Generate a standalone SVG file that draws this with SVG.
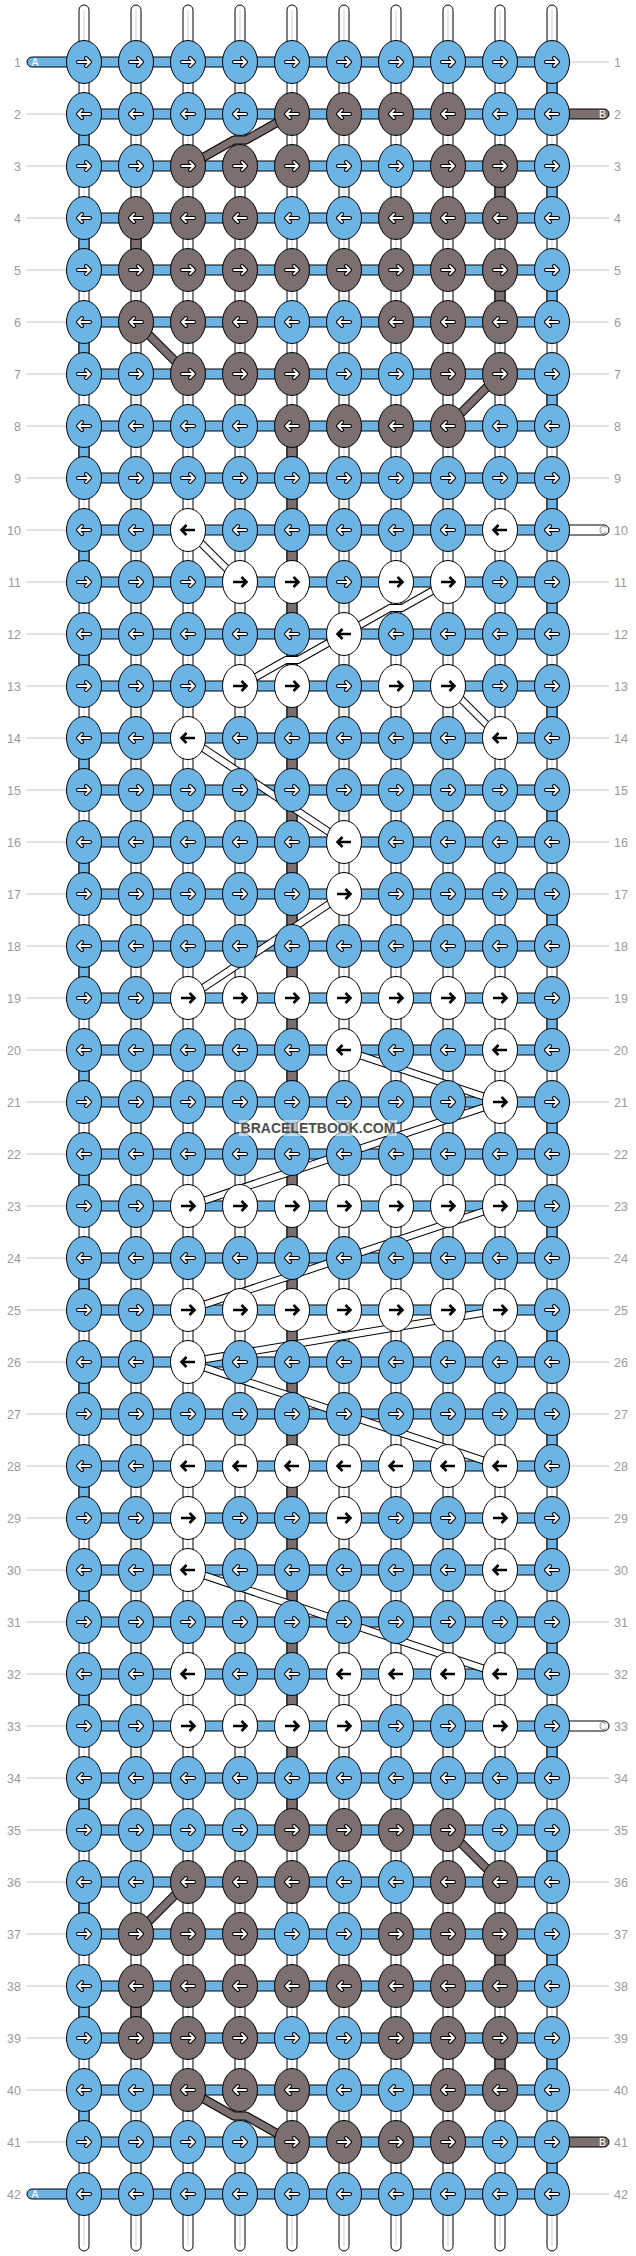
<svg xmlns="http://www.w3.org/2000/svg" xmlns:xlink="http://www.w3.org/1999/xlink" width="636" height="2256" viewBox="0 0 636 2256">
<style>
.s{fill:#fff;stroke:#000;stroke-width:1}
.sg{stroke:#cfcfcf;stroke-width:1}
.h{fill:#6cb4e4;stroke:#000;stroke-width:1}
.vb{fill:#6cb4e4;stroke:#000;stroke-width:1}
.vk{fill:#7b6f6f;stroke:#000;stroke-width:1}
.hk{fill:#7b6f6f;stroke:#000;stroke-width:1}
.hw{fill:#fff;stroke:#000;stroke-width:1}
.ko{fill:none;stroke:#000;stroke-width:9;stroke-linejoin:round}
.ki{fill:none;stroke:#7b6f6f;stroke-width:7;stroke-linejoin:round}
.wo{fill:none;stroke:#000;stroke-width:8;stroke-linejoin:round}
.wi{fill:none;stroke:#fff;stroke-width:6;stroke-linejoin:round}
.eA{fill:#6cb4e4;stroke:#000;stroke-width:1}
.eB{fill:#7b6f6f;stroke:#000;stroke-width:1}
.eC{fill:#fff;stroke:#000;stroke-width:1}
.ao{fill:none;stroke:#000;stroke-width:4;stroke-linecap:round;stroke-linejoin:round}
.ai{fill:none;stroke:#fff;stroke-width:1.8;stroke-linecap:round;stroke-linejoin:round}
.ak{fill:none;stroke:#000;stroke-width:2.6;stroke-linejoin:miter}
.ll{fill:none;stroke:#c4c4c4;stroke-width:1}
.lt{font-family:"Liberation Sans",Arial,sans-serif;font-size:12.5px;fill:#9a9a9a}
.tl{font-family:"Liberation Sans",Arial,sans-serif;font-size:10.5px;fill:#fff}
.wm{font-family:"Liberation Sans",Arial,sans-serif;font-size:14px;font-weight:bold;fill:#4d4d4d}
</style>
<defs>
<g id="AR"><ellipse class="eA" rx="17.5" ry="21.5"/><path class="ao" d="M-6,0H6M2,-4L6,0L2,4"/><path class="ai" d="M-6,0H6M2,-4L6,0L2,4"/></g>
<g id="AL"><ellipse class="eA" rx="17.5" ry="21.5"/><path class="ao" d="M6,0H-6M-2,-4L-6,0L-2,4"/><path class="ai" d="M6,0H-6M-2,-4L-6,0L-2,4"/></g>
<g id="BR"><ellipse class="eB" rx="17.5" ry="21.5"/><path class="ao" d="M-6,0H6M2,-4L6,0L2,4"/><path class="ai" d="M-6,0H6M2,-4L6,0L2,4"/></g>
<g id="BL"><ellipse class="eB" rx="17.5" ry="21.5"/><path class="ao" d="M6,0H-6M-2,-4L-6,0L-2,4"/><path class="ai" d="M6,0H-6M-2,-4L-6,0L-2,4"/></g>
<g id="CR"><ellipse class="eC" rx="17.5" ry="21.5"/><path class="ak" d="M-7,0H6.5M1.5,-5L6.5,0L1.5,5"/></g>
<g id="CL"><ellipse class="eC" rx="17.5" ry="21.5"/><path class="ak" d="M7,0H-6.5M-1.5,-5L-6.5,0L-1.5,5"/></g>
</defs>
<rect width="636" height="2256" fill="#fff"/>
<g id="strands">
<rect class="s" x="79" y="5" width="10" height="2246" rx="5"/>
<rect class="s" x="131" y="5" width="10" height="2246" rx="5"/>
<rect class="s" x="183" y="5" width="10" height="2246" rx="5"/>
<rect class="s" x="235" y="5" width="10" height="2246" rx="5"/>
<rect class="s" x="287" y="5" width="10" height="2246" rx="5"/>
<rect class="s" x="339" y="5" width="10" height="2246" rx="5"/>
<rect class="s" x="391" y="5" width="10" height="2246" rx="5"/>
<rect class="s" x="443" y="5" width="10" height="2246" rx="5"/>
<rect class="s" x="495" y="5" width="10" height="2246" rx="5"/>
<rect class="s" x="547" y="5" width="10" height="2246" rx="5"/>
<path class="sg" d="M84,10V2246M136,10V2246M188,10V2246M240,10V2246M292,10V2246M344,10V2246M396,10V2246M448,10V2246M500,10V2246M552,10V2246"/>
</g>
<g id="labels">
<path class="ll" d="M26,114H66M26,166H66M26,218H66M26,270H66M26,322H66M26,374H66M26,426H66M26,478H66M26,530H66M26,582H66M26,634H66M26,686H66M26,738H66M26,790H66M26,842H66M26,894H66M26,946H66M26,998H66M26,1050H66M26,1102H66M26,1154H66M26,1206H66M26,1258H66M26,1310H66M26,1362H66M26,1414H66M26,1466H66M26,1518H66M26,1570H66M26,1622H66M26,1674H66M26,1726H66M26,1778H66M26,1830H66M26,1882H66M26,1934H66M26,1986H66M26,2038H66M26,2090H66M26,2142H66"/>
<path class="ll" d="M570,62H609M570,166H609M570,218H609M570,270H609M570,322H609M570,374H609M570,426H609M570,478H609M570,582H609M570,634H609M570,686H609M570,738H609M570,790H609M570,842H609M570,894H609M570,946H609M570,998H609M570,1050H609M570,1102H609M570,1154H609M570,1206H609M570,1258H609M570,1310H609M570,1362H609M570,1414H609M570,1466H609M570,1518H609M570,1570H609M570,1622H609M570,1674H609M570,1778H609M570,1830H609M570,1882H609M570,1934H609M570,1986H609M570,2038H609M570,2090H609M570,2194H609"/>
<g class="lt" text-anchor="end">
<text x="21" y="66.5">1</text><text x="21" y="118.5">2</text><text x="21" y="170.5">3</text><text x="21" y="222.5">4</text><text x="21" y="274.5">5</text><text x="21" y="326.5">6</text><text x="21" y="378.5">7</text><text x="21" y="430.5">8</text><text x="21" y="482.5">9</text><text x="21" y="534.5">10</text><text x="21" y="586.5">11</text><text x="21" y="638.5">12</text><text x="21" y="690.5">13</text><text x="21" y="742.5">14</text><text x="21" y="794.5">15</text><text x="21" y="846.5">16</text><text x="21" y="898.5">17</text><text x="21" y="950.5">18</text><text x="21" y="1002.5">19</text><text x="21" y="1054.5">20</text><text x="21" y="1106.5">21</text><text x="21" y="1158.5">22</text><text x="21" y="1210.5">23</text><text x="21" y="1262.5">24</text><text x="21" y="1314.5">25</text><text x="21" y="1366.5">26</text><text x="21" y="1418.5">27</text><text x="21" y="1470.5">28</text><text x="21" y="1522.5">29</text><text x="21" y="1574.5">30</text><text x="21" y="1626.5">31</text><text x="21" y="1678.5">32</text><text x="21" y="1730.5">33</text><text x="21" y="1782.5">34</text><text x="21" y="1834.5">35</text><text x="21" y="1886.5">36</text><text x="21" y="1938.5">37</text><text x="21" y="1990.5">38</text><text x="21" y="2042.5">39</text><text x="21" y="2094.5">40</text><text x="21" y="2146.5">41</text><text x="21" y="2198.5">42</text>
</g>
<g class="lt">
<text x="614" y="66.5">1</text><text x="614" y="118.5">2</text><text x="614" y="170.5">3</text><text x="614" y="222.5">4</text><text x="614" y="274.5">5</text><text x="614" y="326.5">6</text><text x="614" y="378.5">7</text><text x="614" y="430.5">8</text><text x="614" y="482.5">9</text><text x="614" y="534.5">10</text><text x="614" y="586.5">11</text><text x="614" y="638.5">12</text><text x="614" y="690.5">13</text><text x="614" y="742.5">14</text><text x="614" y="794.5">15</text><text x="614" y="846.5">16</text><text x="614" y="898.5">17</text><text x="614" y="950.5">18</text><text x="614" y="1002.5">19</text><text x="614" y="1054.5">20</text><text x="614" y="1106.5">21</text><text x="614" y="1158.5">22</text><text x="614" y="1210.5">23</text><text x="614" y="1262.5">24</text><text x="614" y="1314.5">25</text><text x="614" y="1366.5">26</text><text x="614" y="1418.5">27</text><text x="614" y="1470.5">28</text><text x="614" y="1522.5">29</text><text x="614" y="1574.5">30</text><text x="614" y="1626.5">31</text><text x="614" y="1678.5">32</text><text x="614" y="1730.5">33</text><text x="614" y="1782.5">34</text><text x="614" y="1834.5">35</text><text x="614" y="1886.5">36</text><text x="614" y="1938.5">37</text><text x="614" y="1990.5">38</text><text x="614" y="2042.5">39</text><text x="614" y="2094.5">40</text><text x="614" y="2146.5">41</text><text x="614" y="2198.5">42</text>
</g>
</g>
<g id="rows">
<rect class="h" x="27" y="57" width="530" height="10" rx="5"/>
<rect class="h" x="84" y="109" width="468" height="10"/>
<rect class="h" x="84" y="161" width="468" height="10"/>
<rect class="h" x="84" y="213" width="468" height="10"/>
<rect class="h" x="84" y="265" width="468" height="10"/>
<rect class="h" x="84" y="317" width="468" height="10"/>
<rect class="h" x="84" y="369" width="468" height="10"/>
<rect class="h" x="84" y="421" width="468" height="10"/>
<rect class="h" x="84" y="473" width="468" height="10"/>
<rect class="h" x="84" y="525" width="468" height="10"/>
<rect class="h" x="84" y="577" width="468" height="10"/>
<rect class="h" x="84" y="629" width="468" height="10"/>
<rect class="h" x="84" y="681" width="468" height="10"/>
<rect class="h" x="84" y="733" width="468" height="10"/>
<rect class="h" x="84" y="785" width="468" height="10"/>
<rect class="h" x="84" y="837" width="468" height="10"/>
<rect class="h" x="84" y="889" width="468" height="10"/>
<rect class="h" x="84" y="941" width="468" height="10"/>
<rect class="h" x="84" y="993" width="468" height="10"/>
<rect class="h" x="84" y="1045" width="468" height="10"/>
<rect class="h" x="84" y="1097" width="468" height="10"/>
<rect class="h" x="84" y="1149" width="468" height="10"/>
<rect class="h" x="84" y="1201" width="468" height="10"/>
<rect class="h" x="84" y="1253" width="468" height="10"/>
<rect class="h" x="84" y="1305" width="468" height="10"/>
<rect class="h" x="84" y="1357" width="468" height="10"/>
<rect class="h" x="84" y="1409" width="468" height="10"/>
<rect class="h" x="84" y="1461" width="468" height="10"/>
<rect class="h" x="84" y="1513" width="468" height="10"/>
<rect class="h" x="84" y="1565" width="468" height="10"/>
<rect class="h" x="84" y="1617" width="468" height="10"/>
<rect class="h" x="84" y="1669" width="468" height="10"/>
<rect class="h" x="84" y="1721" width="468" height="10"/>
<rect class="h" x="84" y="1773" width="468" height="10"/>
<rect class="h" x="84" y="1825" width="468" height="10"/>
<rect class="h" x="84" y="1877" width="468" height="10"/>
<rect class="h" x="84" y="1929" width="468" height="10"/>
<rect class="h" x="84" y="1981" width="468" height="10"/>
<rect class="h" x="84" y="2033" width="468" height="10"/>
<rect class="h" x="84" y="2085" width="468" height="10"/>
<rect class="h" x="84" y="2137" width="468" height="10"/>
<rect class="h" x="27" y="2189" width="530" height="10" rx="5"/>
<rect class="hk" x="540" y="109" width="69" height="10" rx="5"/>
<rect class="hk" x="540" y="2137" width="69" height="10" rx="5"/>
<rect class="hw" x="540" y="525" width="69" height="10" rx="5"/>
<rect class="hw" x="540" y="1721" width="69" height="10" rx="5"/>
<text class="tl" x="31.5" y="66">A</text>
<text class="tl" x="31.5" y="2198">A</text>
<text class="tl" x="599" y="118">B</text>
<text class="tl" x="599" y="2146">B</text>
<text class="tl" x="599" y="534" style="fill:#999">C</text>
<text class="tl" x="599" y="1730" style="fill:#999">C</text>
</g>
<g id="verticals">
<rect class="vb" x="547" y="62" width="10" height="52"/><rect class="vb" x="79" y="114" width="10" height="52"/><rect class="vb" x="547" y="166" width="10" height="52"/><rect class="vb" x="79" y="218" width="10" height="52"/><rect class="vb" x="547" y="270" width="10" height="52"/><rect class="vb" x="79" y="322" width="10" height="52"/><rect class="vb" x="547" y="374" width="10" height="52"/><rect class="vb" x="79" y="426" width="10" height="52"/><rect class="vb" x="547" y="478" width="10" height="52"/><rect class="vb" x="79" y="530" width="10" height="52"/><rect class="vb" x="547" y="582" width="10" height="52"/><rect class="vb" x="79" y="634" width="10" height="52"/><rect class="vb" x="547" y="686" width="10" height="52"/><rect class="vb" x="79" y="738" width="10" height="52"/><rect class="vb" x="547" y="790" width="10" height="52"/><rect class="vb" x="79" y="842" width="10" height="52"/><rect class="vb" x="547" y="894" width="10" height="52"/><rect class="vb" x="79" y="946" width="10" height="52"/><rect class="vb" x="547" y="998" width="10" height="52"/><rect class="vb" x="79" y="1050" width="10" height="52"/><rect class="vb" x="547" y="1102" width="10" height="52"/><rect class="vb" x="79" y="1154" width="10" height="52"/><rect class="vb" x="547" y="1206" width="10" height="52"/><rect class="vb" x="79" y="1258" width="10" height="52"/><rect class="vb" x="547" y="1310" width="10" height="52"/><rect class="vb" x="79" y="1362" width="10" height="52"/><rect class="vb" x="547" y="1414" width="10" height="52"/><rect class="vb" x="79" y="1466" width="10" height="52"/><rect class="vb" x="547" y="1518" width="10" height="52"/><rect class="vb" x="79" y="1570" width="10" height="52"/><rect class="vb" x="547" y="1622" width="10" height="52"/><rect class="vb" x="79" y="1674" width="10" height="52"/><rect class="vb" x="547" y="1726" width="10" height="52"/><rect class="vb" x="79" y="1778" width="10" height="52"/><rect class="vb" x="547" y="1830" width="10" height="52"/><rect class="vb" x="79" y="1882" width="10" height="52"/><rect class="vb" x="547" y="1934" width="10" height="52"/><rect class="vb" x="79" y="1986" width="10" height="52"/><rect class="vb" x="547" y="2038" width="10" height="52"/><rect class="vb" x="79" y="2090" width="10" height="52"/><rect class="vb" x="547" y="2142" width="10" height="52"/>
<rect class="vk" x="495" y="166" width="10" height="52"/><rect class="vk" x="131" y="218" width="10" height="52"/><rect class="vk" x="495" y="270" width="10" height="52"/>
<rect class="vk" x="287" y="426" width="10" height="1404"/>
<rect class="vk" x="495" y="1934" width="10" height="52"/><rect class="vk" x="131" y="1986" width="10" height="52"/><rect class="vk" x="495" y="2038" width="10" height="52"/>
</g>
<g id="connectors">
<g class="ko"><path d="M292,114L246,140H234L188,166"/><path d="M136,322L188,374"/><path d="M500,374L448,426"/><path d="M448,1830L500,1882"/><path d="M188,1882L136,1934"/><path d="M188,2090L234,2116H246L292,2142"/></g>
<g class="ki"><path d="M292,114L246,140H234L188,166"/><path d="M136,322L188,374"/><path d="M500,374L448,426"/><path d="M448,1830L500,1882"/><path d="M188,1882L136,1934"/><path d="M188,2090L234,2116H246L292,2142"/></g>
<g class="wo"><path d="M188,530L240,582"/><path d="M448,582L402,608H390L344,634"/><path d="M344,634L298,660H286L240,686"/><path d="M448,686L500,738"/><path d="M188,738L344,842"/><path d="M344,894L188,998"/><path d="M344,1050L500,1102"/><path d="M500,1102L188,1206"/><path d="M500,1206L188,1310"/><path d="M500,1310L188,1362"/><path d="M188,1362L500,1466"/><path d="M188,1570L500,1674"/></g>
<g class="wi"><path d="M188,530L240,582"/><path d="M448,582L402,608H390L344,634"/><path d="M344,634L298,660H286L240,686"/><path d="M448,686L500,738"/><path d="M188,738L344,842"/><path d="M344,894L188,998"/><path d="M344,1050L500,1102"/><path d="M500,1102L188,1206"/><path d="M500,1206L188,1310"/><path d="M500,1310L188,1362"/><path d="M188,1362L500,1466"/><path d="M188,1570L500,1674"/></g>
</g>
<g id="nodes">
<g id="n1-1"><use href="#AR" x="84" y="62"/></g><g id="n1-2"><use href="#AR" x="136" y="62"/></g><g id="n1-3"><use href="#AR" x="188" y="62"/></g><g id="n1-4"><use href="#AR" x="240" y="62"/></g><g id="n1-5"><use href="#AR" x="292" y="62"/></g><g id="n1-6"><use href="#AR" x="344" y="62"/></g><g id="n1-7"><use href="#AR" x="396" y="62"/></g><g id="n1-8"><use href="#AR" x="448" y="62"/></g><g id="n1-9"><use href="#AR" x="500" y="62"/></g><g id="n1-10"><use href="#AR" x="552" y="62"/></g>
<g id="n2-1"><use href="#AL" x="84" y="114"/></g><g id="n2-2"><use href="#AL" x="136" y="114"/></g><g id="n2-3"><use href="#AL" x="188" y="114"/></g><g id="n2-4"><use href="#AL" x="240" y="114"/></g><g id="n2-5"><use href="#BL" x="292" y="114"/></g><g id="n2-6"><use href="#BL" x="344" y="114"/></g><g id="n2-7"><use href="#BL" x="396" y="114"/></g><g id="n2-8"><use href="#BL" x="448" y="114"/></g><g id="n2-9"><use href="#AL" x="500" y="114"/></g><g id="n2-10"><use href="#AL" x="552" y="114"/></g>
<g id="n3-1"><use href="#AR" x="84" y="166"/></g><g id="n3-2"><use href="#AR" x="136" y="166"/></g><g id="n3-3"><use href="#BR" x="188" y="166"/></g><g id="n3-4"><use href="#BR" x="240" y="166"/></g><g id="n3-5"><use href="#BR" x="292" y="166"/></g><g id="n3-6"><use href="#AR" x="344" y="166"/></g><g id="n3-7"><use href="#AR" x="396" y="166"/></g><g id="n3-8"><use href="#BR" x="448" y="166"/></g><g id="n3-9"><use href="#BR" x="500" y="166"/></g><g id="n3-10"><use href="#AR" x="552" y="166"/></g>
<g id="n4-1"><use href="#AL" x="84" y="218"/></g><g id="n4-2"><use href="#BL" x="136" y="218"/></g><g id="n4-3"><use href="#BL" x="188" y="218"/></g><g id="n4-4"><use href="#BL" x="240" y="218"/></g><g id="n4-5"><use href="#AL" x="292" y="218"/></g><g id="n4-6"><use href="#AL" x="344" y="218"/></g><g id="n4-7"><use href="#BL" x="396" y="218"/></g><g id="n4-8"><use href="#BL" x="448" y="218"/></g><g id="n4-9"><use href="#BL" x="500" y="218"/></g><g id="n4-10"><use href="#AL" x="552" y="218"/></g>
<g id="n5-1"><use href="#AR" x="84" y="270"/></g><g id="n5-2"><use href="#BR" x="136" y="270"/></g><g id="n5-3"><use href="#BR" x="188" y="270"/></g><g id="n5-4"><use href="#BR" x="240" y="270"/></g><g id="n5-5"><use href="#BR" x="292" y="270"/></g><g id="n5-6"><use href="#BR" x="344" y="270"/></g><g id="n5-7"><use href="#BR" x="396" y="270"/></g><g id="n5-8"><use href="#BR" x="448" y="270"/></g><g id="n5-9"><use href="#BR" x="500" y="270"/></g><g id="n5-10"><use href="#AR" x="552" y="270"/></g>
<g id="n6-1"><use href="#AL" x="84" y="322"/></g><g id="n6-2"><use href="#BL" x="136" y="322"/></g><g id="n6-3"><use href="#BL" x="188" y="322"/></g><g id="n6-4"><use href="#BL" x="240" y="322"/></g><g id="n6-5"><use href="#AL" x="292" y="322"/></g><g id="n6-6"><use href="#AL" x="344" y="322"/></g><g id="n6-7"><use href="#BL" x="396" y="322"/></g><g id="n6-8"><use href="#BL" x="448" y="322"/></g><g id="n6-9"><use href="#BL" x="500" y="322"/></g><g id="n6-10"><use href="#AL" x="552" y="322"/></g>
<g id="n7-1"><use href="#AR" x="84" y="374"/></g><g id="n7-2"><use href="#AR" x="136" y="374"/></g><g id="n7-3"><use href="#BR" x="188" y="374"/></g><g id="n7-4"><use href="#BR" x="240" y="374"/></g><g id="n7-5"><use href="#BR" x="292" y="374"/></g><g id="n7-6"><use href="#AR" x="344" y="374"/></g><g id="n7-7"><use href="#AR" x="396" y="374"/></g><g id="n7-8"><use href="#BR" x="448" y="374"/></g><g id="n7-9"><use href="#BR" x="500" y="374"/></g><g id="n7-10"><use href="#AR" x="552" y="374"/></g>
<g id="n8-1"><use href="#AL" x="84" y="426"/></g><g id="n8-2"><use href="#AL" x="136" y="426"/></g><g id="n8-3"><use href="#AL" x="188" y="426"/></g><g id="n8-4"><use href="#AL" x="240" y="426"/></g><g id="n8-5"><use href="#BL" x="292" y="426"/></g><g id="n8-6"><use href="#BL" x="344" y="426"/></g><g id="n8-7"><use href="#BL" x="396" y="426"/></g><g id="n8-8"><use href="#BL" x="448" y="426"/></g><g id="n8-9"><use href="#AL" x="500" y="426"/></g><g id="n8-10"><use href="#AL" x="552" y="426"/></g>
<g id="n9-1"><use href="#AR" x="84" y="478"/></g><g id="n9-2"><use href="#AR" x="136" y="478"/></g><g id="n9-3"><use href="#AR" x="188" y="478"/></g><g id="n9-4"><use href="#AR" x="240" y="478"/></g><g id="n9-5"><use href="#AR" x="292" y="478"/></g><g id="n9-6"><use href="#AR" x="344" y="478"/></g><g id="n9-7"><use href="#AR" x="396" y="478"/></g><g id="n9-8"><use href="#AR" x="448" y="478"/></g><g id="n9-9"><use href="#AR" x="500" y="478"/></g><g id="n9-10"><use href="#AR" x="552" y="478"/></g>
<g id="n10-1"><use href="#AL" x="84" y="530"/></g><g id="n10-2"><use href="#AL" x="136" y="530"/></g><g id="n10-3"><use href="#CL" x="188" y="530"/></g><g id="n10-4"><use href="#AL" x="240" y="530"/></g><g id="n10-5"><use href="#AL" x="292" y="530"/></g><g id="n10-6"><use href="#AL" x="344" y="530"/></g><g id="n10-7"><use href="#AL" x="396" y="530"/></g><g id="n10-8"><use href="#AL" x="448" y="530"/></g><g id="n10-9"><use href="#CL" x="500" y="530"/></g><g id="n10-10"><use href="#AL" x="552" y="530"/></g>
<g id="n11-1"><use href="#AR" x="84" y="582"/></g><g id="n11-2"><use href="#AR" x="136" y="582"/></g><g id="n11-3"><use href="#AR" x="188" y="582"/></g><g id="n11-4"><use href="#CR" x="240" y="582"/></g><g id="n11-5"><use href="#CR" x="292" y="582"/></g><g id="n11-6"><use href="#AR" x="344" y="582"/></g><g id="n11-7"><use href="#CR" x="396" y="582"/></g><g id="n11-8"><use href="#CR" x="448" y="582"/></g><g id="n11-9"><use href="#AR" x="500" y="582"/></g><g id="n11-10"><use href="#AR" x="552" y="582"/></g>
<g id="n12-1"><use href="#AL" x="84" y="634"/></g><g id="n12-2"><use href="#AL" x="136" y="634"/></g><g id="n12-3"><use href="#AL" x="188" y="634"/></g><g id="n12-4"><use href="#AL" x="240" y="634"/></g><g id="n12-5"><use href="#AL" x="292" y="634"/></g><g id="n12-6"><use href="#CL" x="344" y="634"/></g><g id="n12-7"><use href="#AL" x="396" y="634"/></g><g id="n12-8"><use href="#AL" x="448" y="634"/></g><g id="n12-9"><use href="#AL" x="500" y="634"/></g><g id="n12-10"><use href="#AL" x="552" y="634"/></g>
<g id="n13-1"><use href="#AR" x="84" y="686"/></g><g id="n13-2"><use href="#AR" x="136" y="686"/></g><g id="n13-3"><use href="#AR" x="188" y="686"/></g><g id="n13-4"><use href="#CR" x="240" y="686"/></g><g id="n13-5"><use href="#CR" x="292" y="686"/></g><g id="n13-6"><use href="#AR" x="344" y="686"/></g><g id="n13-7"><use href="#CR" x="396" y="686"/></g><g id="n13-8"><use href="#CR" x="448" y="686"/></g><g id="n13-9"><use href="#AR" x="500" y="686"/></g><g id="n13-10"><use href="#AR" x="552" y="686"/></g>
<g id="n14-1"><use href="#AL" x="84" y="738"/></g><g id="n14-2"><use href="#AL" x="136" y="738"/></g><g id="n14-3"><use href="#CL" x="188" y="738"/></g><g id="n14-4"><use href="#AL" x="240" y="738"/></g><g id="n14-5"><use href="#AL" x="292" y="738"/></g><g id="n14-6"><use href="#AL" x="344" y="738"/></g><g id="n14-7"><use href="#AL" x="396" y="738"/></g><g id="n14-8"><use href="#AL" x="448" y="738"/></g><g id="n14-9"><use href="#CL" x="500" y="738"/></g><g id="n14-10"><use href="#AL" x="552" y="738"/></g>
<g id="n15-1"><use href="#AR" x="84" y="790"/></g><g id="n15-2"><use href="#AR" x="136" y="790"/></g><g id="n15-3"><use href="#AR" x="188" y="790"/></g><g id="n15-4"><use href="#AR" x="240" y="790"/></g><g id="n15-5"><use href="#AR" x="292" y="790"/></g><g id="n15-6"><use href="#AR" x="344" y="790"/></g><g id="n15-7"><use href="#AR" x="396" y="790"/></g><g id="n15-8"><use href="#AR" x="448" y="790"/></g><g id="n15-9"><use href="#AR" x="500" y="790"/></g><g id="n15-10"><use href="#AR" x="552" y="790"/></g>
<g id="n16-1"><use href="#AL" x="84" y="842"/></g><g id="n16-2"><use href="#AL" x="136" y="842"/></g><g id="n16-3"><use href="#AL" x="188" y="842"/></g><g id="n16-4"><use href="#AL" x="240" y="842"/></g><g id="n16-5"><use href="#AL" x="292" y="842"/></g><g id="n16-6"><use href="#CL" x="344" y="842"/></g><g id="n16-7"><use href="#AL" x="396" y="842"/></g><g id="n16-8"><use href="#AL" x="448" y="842"/></g><g id="n16-9"><use href="#AL" x="500" y="842"/></g><g id="n16-10"><use href="#AL" x="552" y="842"/></g>
<g id="n17-1"><use href="#AR" x="84" y="894"/></g><g id="n17-2"><use href="#AR" x="136" y="894"/></g><g id="n17-3"><use href="#AR" x="188" y="894"/></g><g id="n17-4"><use href="#AR" x="240" y="894"/></g><g id="n17-5"><use href="#AR" x="292" y="894"/></g><g id="n17-6"><use href="#CR" x="344" y="894"/></g><g id="n17-7"><use href="#AR" x="396" y="894"/></g><g id="n17-8"><use href="#AR" x="448" y="894"/></g><g id="n17-9"><use href="#AR" x="500" y="894"/></g><g id="n17-10"><use href="#AR" x="552" y="894"/></g>
<g id="n18-1"><use href="#AL" x="84" y="946"/></g><g id="n18-2"><use href="#AL" x="136" y="946"/></g><g id="n18-3"><use href="#AL" x="188" y="946"/></g><g id="n18-4"><use href="#AL" x="240" y="946"/></g><g id="n18-5"><use href="#AL" x="292" y="946"/></g><g id="n18-6"><use href="#AL" x="344" y="946"/></g><g id="n18-7"><use href="#AL" x="396" y="946"/></g><g id="n18-8"><use href="#AL" x="448" y="946"/></g><g id="n18-9"><use href="#AL" x="500" y="946"/></g><g id="n18-10"><use href="#AL" x="552" y="946"/></g>
<g id="n19-1"><use href="#AR" x="84" y="998"/></g><g id="n19-2"><use href="#AR" x="136" y="998"/></g><g id="n19-3"><use href="#CR" x="188" y="998"/></g><g id="n19-4"><use href="#CR" x="240" y="998"/></g><g id="n19-5"><use href="#CR" x="292" y="998"/></g><g id="n19-6"><use href="#CR" x="344" y="998"/></g><g id="n19-7"><use href="#CR" x="396" y="998"/></g><g id="n19-8"><use href="#CR" x="448" y="998"/></g><g id="n19-9"><use href="#CR" x="500" y="998"/></g><g id="n19-10"><use href="#AR" x="552" y="998"/></g>
<g id="n20-1"><use href="#AL" x="84" y="1050"/></g><g id="n20-2"><use href="#AL" x="136" y="1050"/></g><g id="n20-3"><use href="#AL" x="188" y="1050"/></g><g id="n20-4"><use href="#AL" x="240" y="1050"/></g><g id="n20-5"><use href="#AL" x="292" y="1050"/></g><g id="n20-6"><use href="#CL" x="344" y="1050"/></g><g id="n20-7"><use href="#AL" x="396" y="1050"/></g><g id="n20-8"><use href="#AL" x="448" y="1050"/></g><g id="n20-9"><use href="#CL" x="500" y="1050"/></g><g id="n20-10"><use href="#AL" x="552" y="1050"/></g>
<g id="n21-1"><use href="#AR" x="84" y="1102"/></g><g id="n21-2"><use href="#AR" x="136" y="1102"/></g><g id="n21-3"><use href="#AR" x="188" y="1102"/></g><g id="n21-4"><use href="#AR" x="240" y="1102"/></g><g id="n21-5"><use href="#AR" x="292" y="1102"/></g><g id="n21-6"><use href="#AR" x="344" y="1102"/></g><g id="n21-7"><use href="#AR" x="396" y="1102"/></g><g id="n21-8"><use href="#AR" x="448" y="1102"/></g><g id="n21-9"><use href="#CR" x="500" y="1102"/></g><g id="n21-10"><use href="#AR" x="552" y="1102"/></g>
<g id="n22-1"><use href="#AL" x="84" y="1154"/></g><g id="n22-2"><use href="#AL" x="136" y="1154"/></g><g id="n22-3"><use href="#AL" x="188" y="1154"/></g><g id="n22-4"><use href="#AL" x="240" y="1154"/></g><g id="n22-5"><use href="#AL" x="292" y="1154"/></g><g id="n22-6"><use href="#AL" x="344" y="1154"/></g><g id="n22-7"><use href="#AL" x="396" y="1154"/></g><g id="n22-8"><use href="#AL" x="448" y="1154"/></g><g id="n22-9"><use href="#AL" x="500" y="1154"/></g><g id="n22-10"><use href="#AL" x="552" y="1154"/></g>
<g id="n23-1"><use href="#AR" x="84" y="1206"/></g><g id="n23-2"><use href="#AR" x="136" y="1206"/></g><g id="n23-3"><use href="#CR" x="188" y="1206"/></g><g id="n23-4"><use href="#CR" x="240" y="1206"/></g><g id="n23-5"><use href="#CR" x="292" y="1206"/></g><g id="n23-6"><use href="#CR" x="344" y="1206"/></g><g id="n23-7"><use href="#CR" x="396" y="1206"/></g><g id="n23-8"><use href="#CR" x="448" y="1206"/></g><g id="n23-9"><use href="#CR" x="500" y="1206"/></g><g id="n23-10"><use href="#AR" x="552" y="1206"/></g>
<g id="n24-1"><use href="#AL" x="84" y="1258"/></g><g id="n24-2"><use href="#AL" x="136" y="1258"/></g><g id="n24-3"><use href="#AL" x="188" y="1258"/></g><g id="n24-4"><use href="#AL" x="240" y="1258"/></g><g id="n24-5"><use href="#AL" x="292" y="1258"/></g><g id="n24-6"><use href="#AL" x="344" y="1258"/></g><g id="n24-7"><use href="#AL" x="396" y="1258"/></g><g id="n24-8"><use href="#AL" x="448" y="1258"/></g><g id="n24-9"><use href="#AL" x="500" y="1258"/></g><g id="n24-10"><use href="#AL" x="552" y="1258"/></g>
<g id="n25-1"><use href="#AR" x="84" y="1310"/></g><g id="n25-2"><use href="#AR" x="136" y="1310"/></g><g id="n25-3"><use href="#CR" x="188" y="1310"/></g><g id="n25-4"><use href="#CR" x="240" y="1310"/></g><g id="n25-5"><use href="#CR" x="292" y="1310"/></g><g id="n25-6"><use href="#CR" x="344" y="1310"/></g><g id="n25-7"><use href="#CR" x="396" y="1310"/></g><g id="n25-8"><use href="#CR" x="448" y="1310"/></g><g id="n25-9"><use href="#CR" x="500" y="1310"/></g><g id="n25-10"><use href="#AR" x="552" y="1310"/></g>
<g id="n26-1"><use href="#AL" x="84" y="1362"/></g><g id="n26-2"><use href="#AL" x="136" y="1362"/></g><g id="n26-3"><use href="#CL" x="188" y="1362"/></g><g id="n26-4"><use href="#AL" x="240" y="1362"/></g><g id="n26-5"><use href="#AL" x="292" y="1362"/></g><g id="n26-6"><use href="#AL" x="344" y="1362"/></g><g id="n26-7"><use href="#AL" x="396" y="1362"/></g><g id="n26-8"><use href="#AL" x="448" y="1362"/></g><g id="n26-9"><use href="#AL" x="500" y="1362"/></g><g id="n26-10"><use href="#AL" x="552" y="1362"/></g>
<g id="n27-1"><use href="#AR" x="84" y="1414"/></g><g id="n27-2"><use href="#AR" x="136" y="1414"/></g><g id="n27-3"><use href="#AR" x="188" y="1414"/></g><g id="n27-4"><use href="#AR" x="240" y="1414"/></g><g id="n27-5"><use href="#AR" x="292" y="1414"/></g><g id="n27-6"><use href="#AR" x="344" y="1414"/></g><g id="n27-7"><use href="#AR" x="396" y="1414"/></g><g id="n27-8"><use href="#AR" x="448" y="1414"/></g><g id="n27-9"><use href="#AR" x="500" y="1414"/></g><g id="n27-10"><use href="#AR" x="552" y="1414"/></g>
<g id="n28-1"><use href="#AL" x="84" y="1466"/></g><g id="n28-2"><use href="#AL" x="136" y="1466"/></g><g id="n28-3"><use href="#CL" x="188" y="1466"/></g><g id="n28-4"><use href="#CL" x="240" y="1466"/></g><g id="n28-5"><use href="#CL" x="292" y="1466"/></g><g id="n28-6"><use href="#CL" x="344" y="1466"/></g><g id="n28-7"><use href="#CL" x="396" y="1466"/></g><g id="n28-8"><use href="#CL" x="448" y="1466"/></g><g id="n28-9"><use href="#CL" x="500" y="1466"/></g><g id="n28-10"><use href="#AL" x="552" y="1466"/></g>
<g id="n29-1"><use href="#AR" x="84" y="1518"/></g><g id="n29-2"><use href="#AR" x="136" y="1518"/></g><g id="n29-3"><use href="#CR" x="188" y="1518"/></g><g id="n29-4"><use href="#AR" x="240" y="1518"/></g><g id="n29-5"><use href="#AR" x="292" y="1518"/></g><g id="n29-6"><use href="#CR" x="344" y="1518"/></g><g id="n29-7"><use href="#AR" x="396" y="1518"/></g><g id="n29-8"><use href="#AR" x="448" y="1518"/></g><g id="n29-9"><use href="#CR" x="500" y="1518"/></g><g id="n29-10"><use href="#AR" x="552" y="1518"/></g>
<g id="n30-1"><use href="#AL" x="84" y="1570"/></g><g id="n30-2"><use href="#AL" x="136" y="1570"/></g><g id="n30-3"><use href="#CL" x="188" y="1570"/></g><g id="n30-4"><use href="#AL" x="240" y="1570"/></g><g id="n30-5"><use href="#AL" x="292" y="1570"/></g><g id="n30-6"><use href="#AL" x="344" y="1570"/></g><g id="n30-7"><use href="#AL" x="396" y="1570"/></g><g id="n30-8"><use href="#AL" x="448" y="1570"/></g><g id="n30-9"><use href="#CL" x="500" y="1570"/></g><g id="n30-10"><use href="#AL" x="552" y="1570"/></g>
<g id="n31-1"><use href="#AR" x="84" y="1622"/></g><g id="n31-2"><use href="#AR" x="136" y="1622"/></g><g id="n31-3"><use href="#AR" x="188" y="1622"/></g><g id="n31-4"><use href="#AR" x="240" y="1622"/></g><g id="n31-5"><use href="#AR" x="292" y="1622"/></g><g id="n31-6"><use href="#AR" x="344" y="1622"/></g><g id="n31-7"><use href="#AR" x="396" y="1622"/></g><g id="n31-8"><use href="#AR" x="448" y="1622"/></g><g id="n31-9"><use href="#AR" x="500" y="1622"/></g><g id="n31-10"><use href="#AR" x="552" y="1622"/></g>
<g id="n32-1"><use href="#AL" x="84" y="1674"/></g><g id="n32-2"><use href="#AL" x="136" y="1674"/></g><g id="n32-3"><use href="#CL" x="188" y="1674"/></g><g id="n32-4"><use href="#AL" x="240" y="1674"/></g><g id="n32-5"><use href="#AL" x="292" y="1674"/></g><g id="n32-6"><use href="#CL" x="344" y="1674"/></g><g id="n32-7"><use href="#CL" x="396" y="1674"/></g><g id="n32-8"><use href="#CL" x="448" y="1674"/></g><g id="n32-9"><use href="#CL" x="500" y="1674"/></g><g id="n32-10"><use href="#AL" x="552" y="1674"/></g>
<g id="n33-1"><use href="#AR" x="84" y="1726"/></g><g id="n33-2"><use href="#AR" x="136" y="1726"/></g><g id="n33-3"><use href="#CR" x="188" y="1726"/></g><g id="n33-4"><use href="#CR" x="240" y="1726"/></g><g id="n33-5"><use href="#CR" x="292" y="1726"/></g><g id="n33-6"><use href="#CR" x="344" y="1726"/></g><g id="n33-7"><use href="#AR" x="396" y="1726"/></g><g id="n33-8"><use href="#AR" x="448" y="1726"/></g><g id="n33-9"><use href="#CR" x="500" y="1726"/></g><g id="n33-10"><use href="#AR" x="552" y="1726"/></g>
<g id="n34-1"><use href="#AL" x="84" y="1778"/></g><g id="n34-2"><use href="#AL" x="136" y="1778"/></g><g id="n34-3"><use href="#AL" x="188" y="1778"/></g><g id="n34-4"><use href="#AL" x="240" y="1778"/></g><g id="n34-5"><use href="#AL" x="292" y="1778"/></g><g id="n34-6"><use href="#AL" x="344" y="1778"/></g><g id="n34-7"><use href="#AL" x="396" y="1778"/></g><g id="n34-8"><use href="#AL" x="448" y="1778"/></g><g id="n34-9"><use href="#AL" x="500" y="1778"/></g><g id="n34-10"><use href="#AL" x="552" y="1778"/></g>
<g id="n35-1"><use href="#AR" x="84" y="1830"/></g><g id="n35-2"><use href="#AR" x="136" y="1830"/></g><g id="n35-3"><use href="#AR" x="188" y="1830"/></g><g id="n35-4"><use href="#AR" x="240" y="1830"/></g><g id="n35-5"><use href="#BR" x="292" y="1830"/></g><g id="n35-6"><use href="#BR" x="344" y="1830"/></g><g id="n35-7"><use href="#BR" x="396" y="1830"/></g><g id="n35-8"><use href="#BR" x="448" y="1830"/></g><g id="n35-9"><use href="#AR" x="500" y="1830"/></g><g id="n35-10"><use href="#AR" x="552" y="1830"/></g>
<g id="n36-1"><use href="#AL" x="84" y="1882"/></g><g id="n36-2"><use href="#AL" x="136" y="1882"/></g><g id="n36-3"><use href="#BL" x="188" y="1882"/></g><g id="n36-4"><use href="#BL" x="240" y="1882"/></g><g id="n36-5"><use href="#BL" x="292" y="1882"/></g><g id="n36-6"><use href="#AL" x="344" y="1882"/></g><g id="n36-7"><use href="#AL" x="396" y="1882"/></g><g id="n36-8"><use href="#BL" x="448" y="1882"/></g><g id="n36-9"><use href="#BL" x="500" y="1882"/></g><g id="n36-10"><use href="#AL" x="552" y="1882"/></g>
<g id="n37-1"><use href="#AR" x="84" y="1934"/></g><g id="n37-2"><use href="#BR" x="136" y="1934"/></g><g id="n37-3"><use href="#BR" x="188" y="1934"/></g><g id="n37-4"><use href="#BR" x="240" y="1934"/></g><g id="n37-5"><use href="#AR" x="292" y="1934"/></g><g id="n37-6"><use href="#AR" x="344" y="1934"/></g><g id="n37-7"><use href="#BR" x="396" y="1934"/></g><g id="n37-8"><use href="#BR" x="448" y="1934"/></g><g id="n37-9"><use href="#BR" x="500" y="1934"/></g><g id="n37-10"><use href="#AR" x="552" y="1934"/></g>
<g id="n38-1"><use href="#AL" x="84" y="1986"/></g><g id="n38-2"><use href="#BL" x="136" y="1986"/></g><g id="n38-3"><use href="#BL" x="188" y="1986"/></g><g id="n38-4"><use href="#BL" x="240" y="1986"/></g><g id="n38-5"><use href="#BL" x="292" y="1986"/></g><g id="n38-6"><use href="#BL" x="344" y="1986"/></g><g id="n38-7"><use href="#BL" x="396" y="1986"/></g><g id="n38-8"><use href="#BL" x="448" y="1986"/></g><g id="n38-9"><use href="#BL" x="500" y="1986"/></g><g id="n38-10"><use href="#AL" x="552" y="1986"/></g>
<g id="n39-1"><use href="#AR" x="84" y="2038"/></g><g id="n39-2"><use href="#BR" x="136" y="2038"/></g><g id="n39-3"><use href="#BR" x="188" y="2038"/></g><g id="n39-4"><use href="#BR" x="240" y="2038"/></g><g id="n39-5"><use href="#AR" x="292" y="2038"/></g><g id="n39-6"><use href="#AR" x="344" y="2038"/></g><g id="n39-7"><use href="#BR" x="396" y="2038"/></g><g id="n39-8"><use href="#BR" x="448" y="2038"/></g><g id="n39-9"><use href="#BR" x="500" y="2038"/></g><g id="n39-10"><use href="#AR" x="552" y="2038"/></g>
<g id="n40-1"><use href="#AL" x="84" y="2090"/></g><g id="n40-2"><use href="#AL" x="136" y="2090"/></g><g id="n40-3"><use href="#BL" x="188" y="2090"/></g><g id="n40-4"><use href="#BL" x="240" y="2090"/></g><g id="n40-5"><use href="#BL" x="292" y="2090"/></g><g id="n40-6"><use href="#AL" x="344" y="2090"/></g><g id="n40-7"><use href="#AL" x="396" y="2090"/></g><g id="n40-8"><use href="#BL" x="448" y="2090"/></g><g id="n40-9"><use href="#BL" x="500" y="2090"/></g><g id="n40-10"><use href="#AL" x="552" y="2090"/></g>
<g id="n41-1"><use href="#AR" x="84" y="2142"/></g><g id="n41-2"><use href="#AR" x="136" y="2142"/></g><g id="n41-3"><use href="#AR" x="188" y="2142"/></g><g id="n41-4"><use href="#AR" x="240" y="2142"/></g><g id="n41-5"><use href="#BR" x="292" y="2142"/></g><g id="n41-6"><use href="#BR" x="344" y="2142"/></g><g id="n41-7"><use href="#BR" x="396" y="2142"/></g><g id="n41-8"><use href="#BR" x="448" y="2142"/></g><g id="n41-9"><use href="#AR" x="500" y="2142"/></g><g id="n41-10"><use href="#AR" x="552" y="2142"/></g>
<g id="n42-1"><use href="#AL" x="84" y="2194"/></g><g id="n42-2"><use href="#AL" x="136" y="2194"/></g><g id="n42-3"><use href="#AL" x="188" y="2194"/></g><g id="n42-4"><use href="#AL" x="240" y="2194"/></g><g id="n42-5"><use href="#AL" x="292" y="2194"/></g><g id="n42-6"><use href="#AL" x="344" y="2194"/></g><g id="n42-7"><use href="#AL" x="396" y="2194"/></g><g id="n42-8"><use href="#AL" x="448" y="2194"/></g><g id="n42-9"><use href="#AL" x="500" y="2194"/></g><g id="n42-10"><use href="#AL" x="552" y="2194"/></g>
</g>
<g id="watermark">
<rect x="239" y="1120" width="158" height="16" fill="#fff" fill-opacity="0.55"/>
<text class="wm" x="318" y="1133" text-anchor="middle">BRACELETBOOK.COM</text>
</g>
</svg>
